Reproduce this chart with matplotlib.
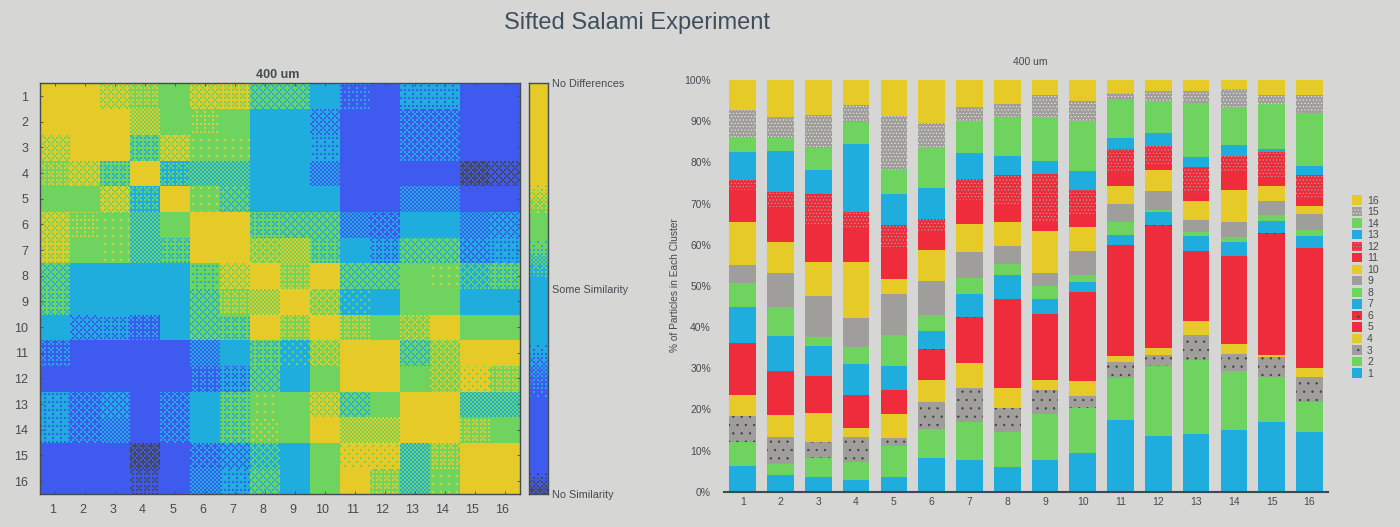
import numpy as np
import matplotlib
matplotlib.use("Agg")
import matplotlib.pyplot as plt
from matplotlib.colors import ListedColormap
from matplotlib.patches import Patch
from matplotlib.transforms import ScaledTranslation

plt.rcParams['font.family'] = ['Liberation Sans', 'DejaVu Sans']
plt.rcParams['hatch.linewidth'] = 0.4

W, H = 1400, 527
BG = '#d6d6d4'
INK = '#454b50'
DARK, BLUE, CYAN, GREEN, YELLOW, RED, GRAY = ('#45475a', '#3f5bef', '#1fadde', '#6fd35f',
                                              '#e6cb28', '#ee2c3c', '#a09e9a')

labels_16 = [str(i) for i in range(1, 17)]
chart_title = 'Sifted Salami Experiment'
panel_title = '400 um'
cbar_labels = ['No Similarity', 'Some Similarity', 'No Differences']

# Similarity level per cell: 0 none, 1 blue, 2 cyan, 3 green, 4 no differences
row_1 = [4, 4, 3.6, 3.3, 3, 3.6, 3.7, 2.6, 2.6, 2, 1.2, 1, 1.8, 1.8, 1, 1]
row_2 = [4, 4, 4, 3.5, 3, 3.2, 3, 2, 2, 1.6, 1, 1, 1.4, 1.4, 1, 1]
row_3 = [3.6, 4, 4, 2.7, 3.6, 3.05, 3.05, 2, 2, 1.8, 1, 1, 1.4, 1.4, 1, 1]
row_4 = [3.3, 3.6, 2.7, 4, 2.3, 2.5, 2.5, 2, 2, 1.5, 1, 1, 1, 1, 0.4, 0.6]
row_5 = [3, 3, 3.6, 2.3, 4, 3.05, 2.6, 2, 2, 2, 1, 1, 1.5, 1.5, 1, 1]
row_6 = [3.6, 3.2, 3.05, 2.5, 3, 4, 4, 2.7, 2.6, 2.6, 1.5, 1.4, 2, 2, 1.5, 1.6]
row_7 = [3.7, 3, 3.05, 2.5, 2.7, 4, 4, 3.4, 3.5, 2.7, 2, 1.7, 2.6, 2.6, 1.6, 1.8]
row_8 = [2.6, 2, 2, 2, 2, 2.8, 3.6, 4, 3.3, 4, 2.6, 2.6, 3, 3.05, 2.4, 2.7]
row_9 = [2.7, 2, 2, 2, 2, 2.6, 3.3, 3.5, 4, 3.4, 2.1, 2, 3, 3, 2, 2]
row_10 = [2, 1.6, 1.7, 1.3, 2, 2.6, 2.7, 4, 3.3, 4, 3.3, 3, 3.4, 4, 3, 3]
row_11 = [1.3, 1, 1, 1, 1, 1.5, 2, 2.7, 2.1, 3.4, 4, 4, 2.6, 3.4, 4, 4]
row_12 = [1, 1, 1, 1, 1, 1.3, 1.7, 2.6, 2, 3, 4, 4, 3, 3.4, 3.9, 3.3]
row_13 = [1.8, 1.4, 1.6, 1, 1.4, 2, 2.7, 3.05, 3, 3.6, 2.6, 3, 4, 4, 2.5, 2.5]
row_14 = [1.8, 1.4, 1.5, 1, 1.4, 2, 2.7, 3.1, 3, 4, 3.5, 3.5, 4, 4, 3.3, 3]
row_15 = [1, 1, 1, 0.4, 1, 1.4, 1.6, 2.4, 2, 3, 3.9, 3.9, 2.5, 3.3, 4, 4]
row_16 = [1, 1, 1, 0.7, 1, 1.5, 1.8, 2.6, 2, 3, 4, 3.3, 2.5, 3.05, 4, 4]

# Percent of particles in each of series 1..16, for each cluster
cluster_1 = [6.2, 5.8, 6.3, 5.2, 12.6, 0.1, 8.7, 5.7, 4.5, 10.3, 8.0, 2.3, 6.9, 3.6, 6.5, 7.4]
cluster_2 = [4.0, 2.8, 6.4, 5.4, 10.7, 0.1, 8.5, 6.9, 8.4, 7.4, 8.5, 3.8, 9.8, 3.3, 5.0, 9.0]
cluster_3 = [3.6, 4.6, 3.9, 7.0, 9.0, 0.1, 7.3, 2.0, 10.1, 8.2, 8.9, 7.6, 5.9, 5.4, 7.9, 8.5]
cluster_4 = [2.8, 4.5, 6.0, 2.2, 8.0, 0.1, 7.5, 4.0, 7.1, 13.6, 8.3, 3.8, 16.6, 5.3, 4.1, 6.0]
cluster_5 = [3.6, 7.5, 1.9, 5.8, 5.8, 0.1, 5.8, 7.5, 10.0, 3.6, 7.8, 5.5, 7.3, 5.9, 13.1, 8.7]
cluster_6 = [8.2, 7.0, 6.6, 5.3, 7.4, 0.1, 4.4, 3.9, 8.3, 7.5, 4.7, 2.8, 7.6, 10.0, 5.8, 10.5]
cluster_7 = [7.7, 9.2, 8.3, 6.1, 11.0, 0.1, 5.7, 3.9, 6.3, 6.8, 5.8, 5.1, 6.2, 7.9, 3.3, 6.6]
cluster_8 = [6.1, 8.5, 5.7, 4.9, 21.5, 0.1, 5.8, 2.7, 4.4, 5.7, 4.6, 6.9, 4.6, 9.2, 3.5, 5.7]
cluster_9 = [7.7, 11.1, 5.9, 2.4, 16.0, 0.1, 3.6, 3.1, 3.1, 10.3, 2.3, 11.5, 3.2, 10.7, 5.3, 3.9]
cluster_10 = [9.3, 11.1, 2.8, 3.8, 21.5, 0.1, 2.3, 1.8, 5.7, 5.8, 2.8, 6.3, 4.5, 12.2, 4.8, 5.3]
cluster_11 = [17.4, 10.3, 3.7, 1.5, 27.0, 0.1, 2.4, 3.2, 4.3, 4.4, 3.2, 5.7, 2.7, 9.6, 1.4, 3.4]
cluster_12 = [13.5, 17.0, 2.8, 1.6, 29.7, 0.1, 3.3, 0.5, 4.6, 5.1, 1.5, 4.2, 3.2, 7.9, 2.4, 2.6]
cluster_13 = [14.0, 18.1, 5.9, 3.5, 16.8, 0.1, 3.7, 1.0, 3.0, 4.5, 1.9, 6.4, 2.3, 13.2, 3.0, 2.9]
cluster_14 = [15.0, 14.4, 4.0, 2.4, 21.4, 0.1, 3.4, 1.1, 3.8, 7.8, 4.4, 3.7, 2.6, 9.3, 4.3, 2.4]
cluster_15 = [16.9, 10.9, 4.9, 0.5, 29.5, 0.1, 2.9, 1.5, 3.4, 3.6, 2.3, 6.0, 0.8, 10.8, 2.2, 3.9]
cluster_16 = [14.6, 7.2, 6.0, 2.3, 29.1, 0.1, 2.9, 1.3, 4.0, 1.9, 1.9, 5.7, 2.2, 12.7, 4.5, 3.7]

matrix = np.array([row_1, row_2, row_3, row_4, row_5, row_6, row_7, row_8, row_9, row_10,
                   row_11, row_12, row_13, row_14, row_15, row_16], dtype=float)
shares = np.array([cluster_1, cluster_2, cluster_3, cluster_4, cluster_5, cluster_6, cluster_7,
                   cluster_8, cluster_9, cluster_10, cluster_11, cluster_12, cluster_13,
                   cluster_14, cluster_15, cluster_16])

SERIES_COLOR = [CYAN, GREEN, GRAY, YELLOW, RED, RED, CYAN, GREEN, GRAY, YELLOW, RED, RED, CYAN,
                GREEN, GRAY, YELLOW]
SERIES_HATCH = {2: ('#3c3c44', '..'), 5: ('#3c3c44', '..'), 11: ('#9fb8b0', '.....'),
                14: ('#ededea', '.....')}


def rect(x0, y0, x1, y1):
    return [x0 / W, 1 - y1 / H, (x1 - x0) / W, (y1 - y0) / H]


BAYER = np.array([[0, 8, 2, 10], [12, 4, 14, 6], [3, 11, 1, 9], [15, 7, 13, 5]]) / 16 + 1 / 32
palette = ListedColormap([DARK, BLUE, CYAN, GREEN, YELLOW])


def dither(levels):
    """Ordered dither of fractional levels onto the five palette colours, as in the source."""
    h, w = levels.shape
    thr = BAYER[np.ix_((np.arange(h) // 2) % 4, (np.arange(w) // 2) % 4)]
    base = np.floor(levels)
    return np.clip(base + ((levels - base) > thr), 0, 4)


fig = plt.figure(figsize=(W / 100, H / 100), dpi=100, facecolor=BG)
fig.text(637 / W, 1 - 23 / H, chart_title, ha='center', va='center', fontsize=17, color='#3f4f5e')

# ---- heat map
ax = fig.add_axes(rect(39.5, 83.3, 519.5, 494))
px_h, px_w = 411, 480
ri = np.arange(px_h) * 16 // px_h
ci = np.arange(px_w) * 16 // px_w
ax.imshow(dither(matrix[np.ix_(ri, ci)]), cmap=palette, vmin=-0.5, vmax=4.5, aspect='auto',
          interpolation='nearest', extent=(0.5, 16.5, 16.5, 0.5))
ax.set_xticks(range(1, 17), labels_16)
ax.set_yticks(range(1, 17), labels_16)
ax.tick_params(direction='in', length=2.5, width=0.6, color=INK, labelcolor=INK, labelsize=9,
               top=True, right=True)
ax.tick_params(axis='x', pad=7)
ax.tick_params(axis='y', pad=8)
label_shift = ScaledTranslation(-2 / 100, 0, fig.dpi_scale_trans)
for lab in ax.get_xticklabels():
    lab.set_transform(lab.get_transform() + label_shift)
for s in ax.spines.values():
    s.set_color(INK)
    s.set_linewidth(1.0)
fig.text(278 / W, 1 - 75 / H, panel_title, ha='center', va='center', fontsize=9, color=INK,
         fontweight='bold')

# ---- colour bar
cax = fig.add_axes(rect(529, 83.3, 548, 494))
bar_pos = np.linspace(1, 0, 411)
bar_levels = np.interp(bar_pos, [0, .055, .228, .382, .512, .626, .676, .757, 1],
                       [0.3, 1, 1, 2, 2, 3, 3, 4, 4])
cax.imshow(dither(np.repeat(bar_levels[:, None], 19, axis=1)), cmap=palette, vmin=-0.5, vmax=4.5,
           aspect='auto', interpolation='nearest', extent=(0, 1, 0, 1))
cax.set_xticks([])
cax.yaxis.tick_right()
cax.set_yticks([0, 0.498, 1], cbar_labels)
cax.tick_params(length=0, labelcolor=INK, labelsize=7.8, pad=3)
for s in cax.spines.values():
    s.set_color(INK)
    s.set_linewidth(1.0)

# ---- stacked bars
bx = fig.add_axes(rect(723.5, 80, 1328, 491.7))
bx.set_facecolor(BG)
x = np.arange(1, 17)
bottom = np.zeros(16)
handles = []
for i, name in enumerate(labels_16):
    hatch_col, hatch = SERIES_HATCH.get(i, (SERIES_COLOR[i], None))
    bx.bar(x, shares[:, i], 0.705, bottom=bottom, color=SERIES_COLOR[i], edgecolor=hatch_col,
           hatch=hatch, linewidth=0)
    handles.append(Patch(facecolor=SERIES_COLOR[i], edgecolor=hatch_col, hatch=hatch, linewidth=0,
                         label=name))
    bottom += shares[:, i]
bx.set_xlim(0.49, 16.49)
bx.set_ylim(0, 100)
bx.set_xticks(x, labels_16)
bx.set_yticks(range(0, 101, 10), [f'{v}%' for v in range(0, 101, 10)])
bx.tick_params(length=0, labelcolor=INK, labelsize=7.5)
bx.tick_params(axis='x', pad=4)
bx.tick_params(axis='y', pad=9)
for k in ('top', 'left', 'right'):
    bx.spines[k].set_visible(False)
bx.spines['bottom'].set_color('#3f4a50')
bx.spines['bottom'].set_linewidth(1.5)
fig.text(1030 / W, 1 - 62 / H, panel_title, ha='center', va='center', fontsize=7.5, color=INK)
fig.text(675 / W, 1 - 285 / H, '% of Particles in Each Cluster', rotation=90, ha='center',
         va='center', fontsize=7.3, color=INK)
fig.legend(handles=handles[::-1], loc='center left', bbox_to_anchor=(1352 / W, 1 - 287 / H),
           frameon=False, fontsize=7.5, labelspacing=0.125, handlelength=1.0, handleheight=1.0,
           handletextpad=0.45, borderpad=0, borderaxespad=0, labelcolor=INK)

fig.savefig('out.png', dpi=100, facecolor=BG)
